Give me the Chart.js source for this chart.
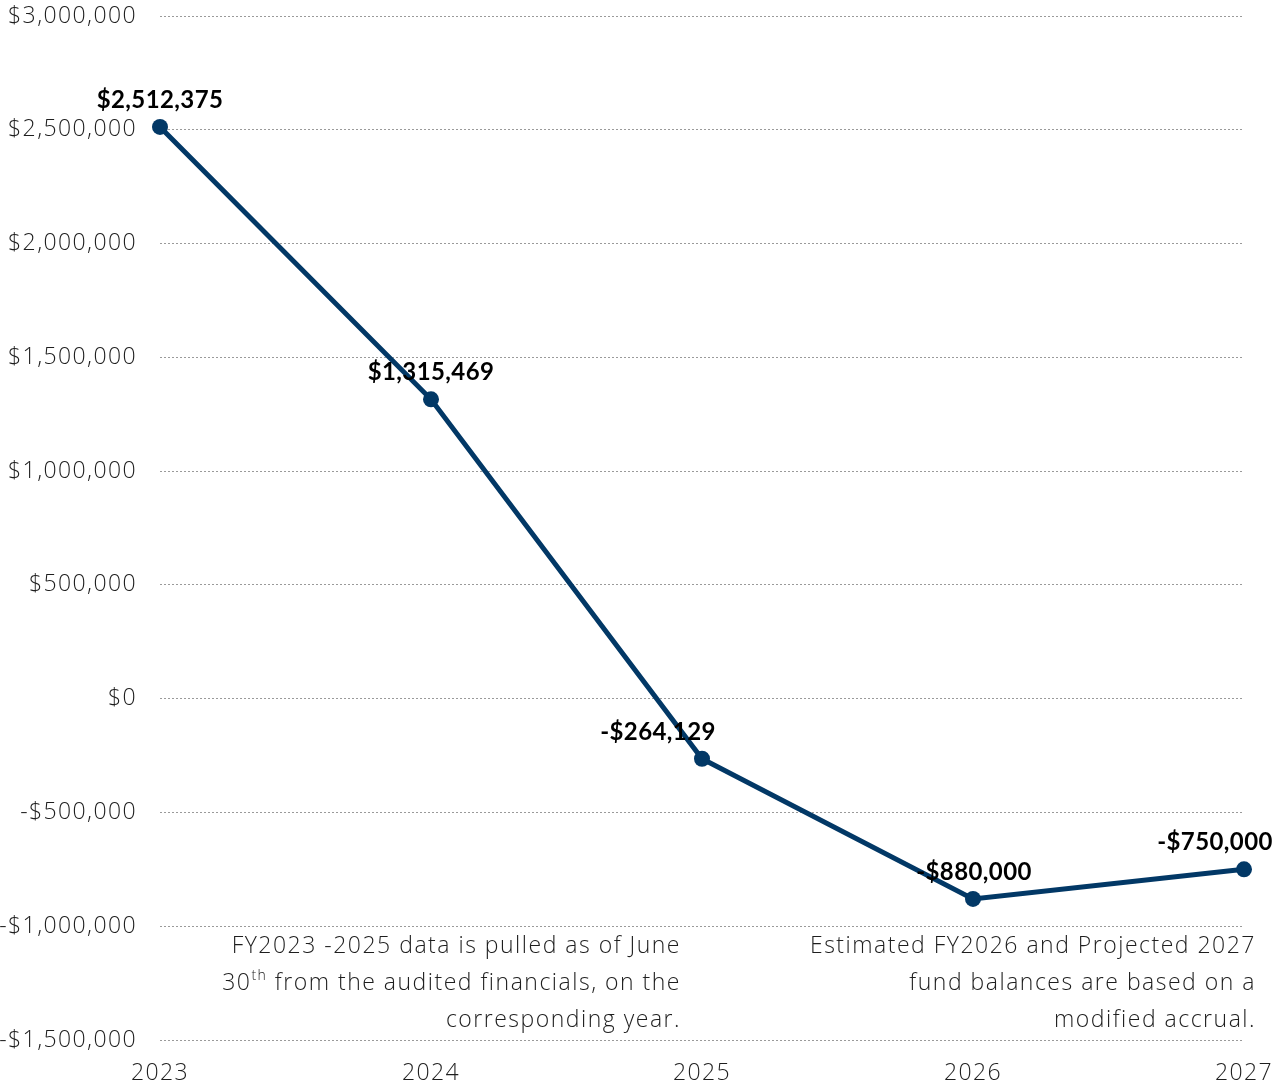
<!DOCTYPE html>
<html lang="en">
<head>
  <meta charset="UTF-8">
  <title>Fund Balance</title>
  <script src="https://cdn.jsdelivr.net/npm/chart.js"></script>
  <style>
    html, body {
      margin: 0;
      padding: 0;
      background: #ffffff;
    }
    .wrap {
      width: 1275px;
      height: 1086px;
      position: relative;
    }
  </style>
</head>
<body>

<div class="wrap">
  <canvas id="grafico"></canvas>
</div>

<script>
  const anos = ["2023", "2024", "2025", "2026", "2027"];
  const saldos = [2512375, 1315469, -264129, -880000, -750000];
  const rotulos = ["$2,512,375", "$1,315,469", "-$264,129", "-$880,000", "-$750,000"];
  const yMin = -1500000;
  const yMax = 3000000;
  const yPasso = 500000;

  const notaEsquerda = [
    "FY2023 -2025 data is pulled as of June",
    ["30", "th", " from the audited financials, on the"],
    "corresponding year."
  ];
  const notaDireita = [
    "Estimated FY2026 and Projected 2027",
    "fund balances are based on a",
    "modified accrual."
  ];

  const cor = "#023866";
  const fonteLeve = "'Open Sans', 'Lato', sans-serif";
  const fonteForte = "'Lato', 'Open Sans', sans-serif";

  function moeda(v) {
    const s = "$" + Math.abs(v).toLocaleString("en-US");
    return v < 0 ? "-" + s : s;
  }

  // deslocamento horizontal dos rótulos em relação ao ponto
  const deslocX = [0, 0, -44, 1, -29];

  // texto leve mais espaçado, parecido com a fonte original
  const espacoPlugin = {
    id: "espaco",
    beforeDraw(chart) {
      chart.ctx.letterSpacing = "1.4px";
    }
  };

  const rotulosPlugin = {
    id: "rotulos",
    afterDatasetsDraw(chart) {
      const ctx = chart.ctx;
      const meta = chart.getDatasetMeta(0);
      ctx.save();
      ctx.letterSpacing = "0.4px";
      ctx.font = "700 24px " + fonteForte;
      ctx.fillStyle = "#000";
      ctx.textAlign = "center";
      ctx.textBaseline = "middle";
      meta.data.forEach((p, i) => {
        ctx.fillText(rotulos[i], p.x + deslocX[i], p.y - 27);
      });
      ctx.restore();
    }
  };

  const notasPlugin = {
    id: "notas",
    afterDraw(chart) {
      const ctx = chart.ctx;
      const y = chart.scales.y;
      const base = y.getPixelForValue(-1000000) + 20;
      ctx.save();
      ctx.letterSpacing = "1.5px";
      ctx.fillStyle = "#1e1e1e";
      ctx.textBaseline = "middle";
      ctx.textAlign = "right";
      const f = "300 23px " + fonteLeve;
      const fs = "300 14px " + fonteLeve;
      notaEsquerda.forEach((linha, i) => {
        const yy = base + i * 37;
        if (Array.isArray(linha)) {
          ctx.font = f;
          const w2 = ctx.measureText(linha[2]).width;
          const w0 = ctx.measureText(linha[0]).width;
          ctx.font = fs;
          const w1 = ctx.measureText(linha[1]).width;
          const xr = 681;
          ctx.textAlign = "left";
          const x0 = xr - w2 - w1 - w0;
          ctx.font = f;
          ctx.fillText(linha[0], x0, yy);
          ctx.font = fs;
          ctx.fillText(linha[1], x0 + w0, yy - 7);
          ctx.font = f;
          ctx.fillText(linha[2], x0 + w0 + w1, yy);
          ctx.textAlign = "right";
        } else {
          ctx.font = f;
          ctx.fillText(linha, 681, yy);
        }
      });
      ctx.font = f;
      notaDireita.forEach((linha, i) => {
        ctx.fillText(linha, 1256, base + i * 37);
      });
      ctx.restore();
    }
  };

  const ctx = document.getElementById("grafico").getContext("2d");

  new Chart(ctx, {
    type: "line",
    data: {
      labels: anos,
      datasets: [{
        data: saldos,
        borderColor: cor,
        backgroundColor: cor,
        borderWidth: 5,
        pointRadius: 8,
        pointBackgroundColor: cor,
        pointBorderWidth: 0,
        tension: 0
      }]
    },
    options: {
      responsive: true,
      maintainAspectRatio: false,
      animation: false,
      layout: { padding: { top: 16, right: 31, bottom: 0, left: 0 } },
      plugins: {
        legend: { display: false },
        tooltip: { enabled: false }
      },
      scales: {
        x: {
          offset: false,
          grid: { display: false, drawTicks: false },
          border: { display: false },
          ticks: {
            color: "#1e1e1e",
            padding: 20,
            maxRotation: 0,
            font: { family: fonteLeve, size: 23, weight: "300" }
          },
          afterFit: s => {
            s.height = 46;
            s.paddingLeft = 0;
            s.paddingRight = 0;
          }
        },
        y: {
          min: yMin,
          max: yMax,
          grid: {
            color: "#9a9a9a",
            lineWidth: 1,
            drawTicks: false
          },
          border: { display: false, dash: [2, 2] },
          ticks: {
            stepSize: yPasso,
            color: "#1e1e1e",
            padding: 23,
            font: { family: fonteLeve, size: 23, weight: "300" },
            callback: v => moeda(v)
          },
          afterFit: s => {
            s.width = 160;
            s.paddingTop = 0;
            s.paddingBottom = 0;
          }
        }
      }
    },
    plugins: [espacoPlugin, rotulosPlugin, notasPlugin]
  });
</script>

</body>
</html>
